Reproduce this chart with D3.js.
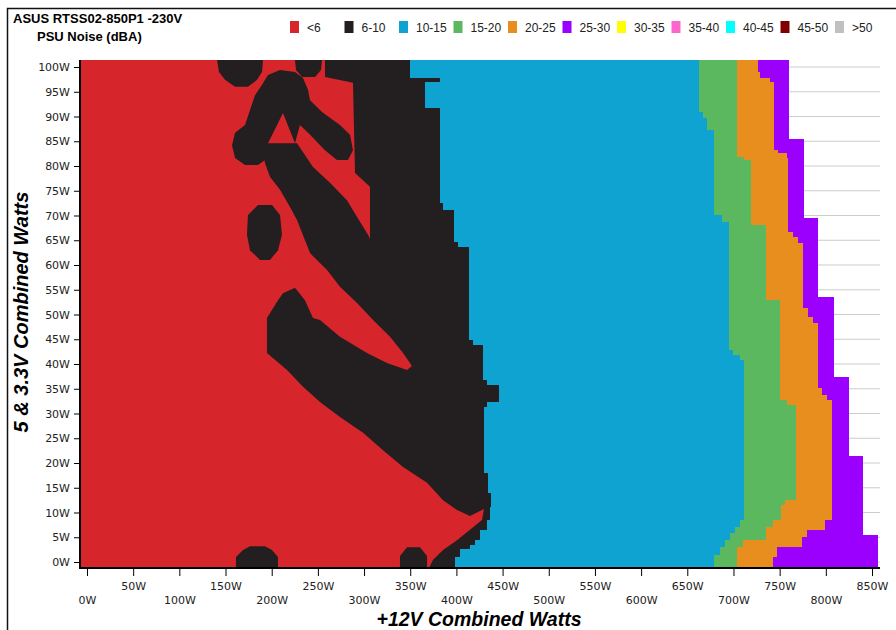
<!DOCTYPE html>
<html>
<head>
<meta charset="utf-8">
<script src="https://cdn.jsdelivr.net/npm/d3@7"></script>
<style>
  body { margin: 0; background: #fff; }
  svg { display: block; }
</style>
</head>
<body>
<svg id="chart" width="896" height="630"></svg>
<script>
// Legend categories (dBA) and their colours
const categories = ["<6", "6-10", "10-15", "15-20", "20-25", "25-30", "30-35", "35-40", "40-45", "45-50", ">50"];
const colors = ["#d7262b", "#231f20", "#0ea3d0", "#5cb85f", "#e88e1e", "#9b00ff", "#ffff00", "#ff66cc", "#00ffff", "#800000", "#c0c0c0"];

// Axis ticks (watts)
const xMajor = d3.range(0, 851, 50);
const xMinor = d3.range(0, 851, 12.5);
const yMajor = d3.range(0, 101, 5);
const yMinor = d3.range(0, 101, 1);

// Band edges: [5&3.3V from, 5&3.3V to, +12V watts where band starts]
const blueStart = [
  [101.4, 97.8, 349.7], [97.8, 97.0, 382.2], [97.0, 91.7, 366.0], [91.7, 72.5, 382.2],
  [72.5, 71.1, 385.5], [71.1, 64.6, 397.4], [64.6, 63.6, 401.7], [63.6, 44.8, 413.6],
  [44.8, 43.8, 418.0], [43.8, 36.8, 428.8], [36.8, 35.8, 433.1], [35.8, 32.3, 446.1],
  [32.3, 31.3, 433.1], [31.3, 18.0, 429.9], [18.0, 13.9, 434.2], [13.9, 11.1, 437.5],
  [11.1, 8.5, 436.4], [8.5, 6.5, 433.1], [6.5, 4.4, 425.5], [4.4, 3.4, 420.0],
  [3.4, 2.6, 414.7], [2.6, 1.0, 403.9], [1.0, -1.2, 398.5]
];
const greenStart = [
  [101.4, 90.9, 662.7], [90.9, 89.7, 667.0], [89.7, 87.3, 671.4], [87.3, 70.1, 679.0],
  [70.1, 68.7, 687.6], [68.7, 42.8, 695.2], [42.8, 41.8, 699.5], [41.8, 40.8, 707.0],
  [40.8, 8.5, 711.4], [8.5, 7.1, 707.0], [7.1, 5.9, 701.7], [5.9, 4.4, 696.3],
  [4.4, 3.0, 690.8], [3.0, 1.4, 685.4], [1.4, -1.2, 679.0]
];
const orangeStart = [
  [101.4, 81.8, 703.8], [81.8, 81.2, 711.0], [81.2, 68.1, 719.0], [68.1, 52.9, 735.2],
  [52.9, 32.7, 750.4], [32.7, 31.7, 758.0], [31.7, 12.5, 767.7], [12.5, 11.5, 756.0],
  [11.5, 8.5, 751.5], [8.5, 7.1, 742.8], [7.1, 4.4, 735.2], [4.4, 3.0, 710.4],
  [3.0, -1.2, 703.8]
];
const purpleStart = [
  [101.4, 99.0, 726.6], [99.0, 97.8, 728.8], [97.8, 97.0, 739.6], [97.0, 83.2, 743.9],
  [83.2, 82.6, 748.2], [82.6, 81.6, 757.9], [81.6, 66.7, 759.0], [66.7, 65.7, 764.5],
  [65.7, 64.4, 770.0], [64.4, 51.3, 775.3], [51.3, 49.5, 780.7], [49.5, 48.3, 786.1],
  [48.3, 35.2, 791.6], [35.2, 33.7, 795.9], [33.7, 32.7, 801.3], [32.7, 8.5, 806.7],
  [8.5, 6.5, 799.0], [6.5, 5.1, 779.6], [5.1, 3.0, 774.2], [3.0, 1.0, 747.2],
  [1.0, -1.2, 742.8]
];
const purpleEnd = [
  [101.4, 85.5, 760.2], [85.5, 69.5, 776.4], [69.5, 53.5, 791.6], [53.5, 37.4, 808.9],
  [37.4, 21.4, 825.1], [21.4, 5.5, 840.3], [5.5, -1.2, 856.5]
];

// 6-10 dBA patches inside the <6 area: [+12V, 5&3.3V] outlines
const blackMain = [
  [257.7, 101.4], [257.7, 98], [288, 96.8], [290.2, 78.6], [306.4, 75.8], [306.4, 63],
  [333.5, 48.9], [351.9, 39.6], [346.5, 38.8], [324.8, 40.2], [303.2, 42.2], [273.9, 45.5],
  [252.3, 48.9], [244.7, 49.3], [236, 52.9], [225.2, 55.4], [212.2, 54.3], [206.8, 52.9],
  [194.9, 49.3], [194.9, 42.2], [216.6, 38.8], [233.9, 35.4], [252.3, 32.3], [273.9, 29.3],
  [298.9, 26.1], [320.5, 22.6], [342.2, 19.2], [368.2, 16], [385.5, 12.5], [400.6, 10.5],
  [414.7, 9.3], [429.9, 10.7], [427.7, 8.5], [414.7, 6.5], [400.6, 4.4], [385.5, 2.4],
  [374.6, 0.4], [370.3, -1.2], [468.9, -1.2], [468.9, 101.4]
];
const blackBand = [
  [194.9, 84.6], [227.4, 84.6], [244.7, 79.8], [263.1, 76.6], [281.5, 73.1], [292.4, 69.7],
  [304.3, 66.1], [308.6, 64.4], [338.9, 52.9], [355.2, 44.8], [351.9, 39.6], [342.2, 42.2],
  [328.1, 45.5], [309.7, 48.9], [292.4, 52.3], [273.9, 55.6], [259.9, 59], [241.5, 62.4],
  [227.4, 69.1], [219.8, 71.7], [209, 75.2], [198.2, 77.8], [192.7, 80.6], [189.5, 83.8]
];
const blackHook = [
  [196, 98.4], [209, 99.4], [225.2, 99], [233.9, 97.8], [239.3, 95.4], [241.5, 93.3],
  [254.5, 90.9], [273.9, 88.3], [284.8, 86.3], [288, 83.2], [282.6, 81.2], [270.7, 81.2],
  [257.7, 83.2], [241.5, 86.3], [230.6, 88.3], [225.2, 84.6], [212.2, 90.7], [196, 84.6],
  [192.7, 81.2], [185.2, 80.2], [171.1, 80.2], [160.3, 81.6], [157, 84.2], [160.3, 86.7],
  [171.1, 88.3], [176.5, 91.3], [181.9, 94.3], [189.5, 96.4]
];
const blackTopLeft = [
  [140.8, 101.4], [190.6, 101.4], [189.5, 99], [184.1, 97.4], [174.3, 96], [160.3, 96],
  [149.4, 97.4], [142.9, 99]
];
const blackTopMid = [
  [225.2, 101.4], [254.5, 101.4], [253.4, 99.4], [246.9, 98], [232.8, 98], [226.3, 99.4]
];
const blackOval = [
  [185.2, 72.1], [200.3, 72.1], [209, 70.1], [211.1, 66.1], [206.8, 63], [198.2, 61],
  [187.3, 61], [176.5, 63], [173.2, 66.1], [174.3, 70.1]
];
const blackBottomLeft = [
  [161.3, -1.2], [161.3, 1], [168.9, 2.4], [176.5, 3.2], [192.7, 3.2], [200.3, 2.4],
  [206.8, 1], [206.8, -1.2]
];
const blackBottomMid = [
  [338.9, -1.2], [338.9, 1.2], [346.5, 3], [360.6, 3], [368.2, 1.2], [368.2, -1.2]
];

// Scales
const x = d3.scaleLinear().domain([0, 850]).range([87, 872]);
const y = d3.scaleLinear().domain([0, 100]).range([562, 67]);
const xLo = x.invert(80), xHi = x.invert(880);
const yLo = -1.2, yHi = 101.4;

const svg = d3.select("#chart");

// outer frame
svg.append("path")
  .attr("d", "M7.5,630V8.5H896")
  .attr("fill", "none")
  .attr("stroke", "#111")
  .attr("stroke-width", 1.5);

// titles
svg.append("text").attr("x", 13).attr("y", 23)
  .attr("font-family", "Liberation Sans, Arial, sans-serif")
  .attr("font-weight", "bold").attr("font-size", 13)
  .text("ASUS RTSS02-850P1 -230V");
svg.append("text").attr("x", 37).attr("y", 41)
  .attr("font-family", "Liberation Sans, Arial, sans-serif")
  .attr("font-weight", "bold").attr("font-size", 13)
  .text("PSU Noise (dBA)");

// legend
const legend = svg.append("g").attr("transform", "translate(290,21)");
const item = legend.selectAll("g").data(categories).enter().append("g")
  .attr("transform", (d, i) => "translate(" + (i * 54.5) + ",0)");
item.append("rect").attr("width", 9).attr("height", 12)
  .attr("fill", (d, i) => colors[i]);
item.append("text").attr("x", 17).attr("y", 11)
  .attr("font-family", "Liberation Sans, Arial, sans-serif")
  .attr("font-size", 12).attr("fill", "#222")
  .text(d => d);

// gridlines
svg.append("g").selectAll("line").data(yMajor).enter().append("line")
  .attr("x1", x(xLo)).attr("x2", x(xHi))
  .attr("y1", d => y(d)).attr("y2", d => y(d))
  .attr("stroke", "#cccccc").attr("stroke-width", 1);

// noise map
const plot = svg.append("g");
const line = d3.line().x(d => x(d[0])).y(d => y(d[1]));

function band(left, right) {
  const pts = [];
  left.forEach(s => { pts.push([s[2], s[0]], [s[2], s[1]]); });
  right.slice().reverse().forEach(s => { pts.push([s[2], s[1]], [s[2], s[0]]); });
  return pts;
}

plot.append("path")
  .attr("d", line(band([[yHi, yLo, xLo]], purpleEnd)) + "Z")
  .attr("fill", colors[0]).attr("shape-rendering", "crispEdges");

[blackMain, blackBand, blackHook, blackTopLeft, blackTopMid, blackOval, blackBottomLeft, blackBottomMid]
  .forEach(p => {
    plot.append("path").attr("d", line(p) + "Z").attr("fill", colors[1]);
  });

[[blueStart, 2], [greenStart, 3], [orangeStart, 4], [purpleStart, 5]].forEach(([edge, c]) => {
  plot.append("path")
    .attr("d", line(band(edge, purpleEnd)) + "Z")
    .attr("fill", colors[c]).attr("shape-rendering", "crispEdges");
});

// axes
const tickFont = "DejaVu Sans, Verdana, sans-serif";

const yAxis = svg.append("g").attr("transform", "translate(80,0)");
yAxis.call(d3.axisLeft(y).tickValues(yMinor).tickSize(3).tickFormat(""));
yAxis.call(d3.axisLeft(y).tickValues(yMajor).tickSize(6).tickPadding(4).tickFormat(d => d + "W"));
yAxis.selectAll(".domain").remove();
yAxis.selectAll("text").attr("font-family", tickFont).attr("font-size", 11).attr("fill", "#222");

const xAxis = svg.append("g").attr("transform", "translate(0,568)");
xAxis.call(d3.axisBottom(x).tickValues(xMinor).tickSize(5).tickFormat(""));
xAxis.call(d3.axisBottom(x).tickValues(xMajor).tickSize(8).tickFormat(d => d + "W"));
xAxis.selectAll(".domain").remove();
xAxis.selectAll("text")
  .attr("font-family", tickFont).attr("font-size", 11).attr("fill", "#222")
  .attr("y", d => (d / 50) % 2 ? 14 : 28);

svg.append("line").attr("x1", 80).attr("x2", 80).attr("y1", y(yHi)).attr("y2", 569)
  .attr("stroke", "#000").attr("stroke-width", 2);
svg.append("line").attr("x1", 79).attr("x2", 880).attr("y1", 568).attr("y2", 568)
  .attr("stroke", "#000").attr("stroke-width", 2);

// axis titles
svg.append("text")
  .attr("x", 479).attr("y", 626).attr("text-anchor", "middle")
  .attr("font-family", "Liberation Sans, Arial, sans-serif")
  .attr("font-weight", "bold").attr("font-style", "italic").attr("font-size", 19.5)
  .text("+12V Combined Watts");
svg.append("text")
  .attr("transform", "translate(28,312) rotate(-90)").attr("text-anchor", "middle")
  .attr("font-family", "Liberation Sans, Arial, sans-serif")
  .attr("font-weight", "bold").attr("font-style", "italic").attr("font-size", 20)
  .text("5 & 3.3V Combined Watts");
</script>
</body>
</html>
